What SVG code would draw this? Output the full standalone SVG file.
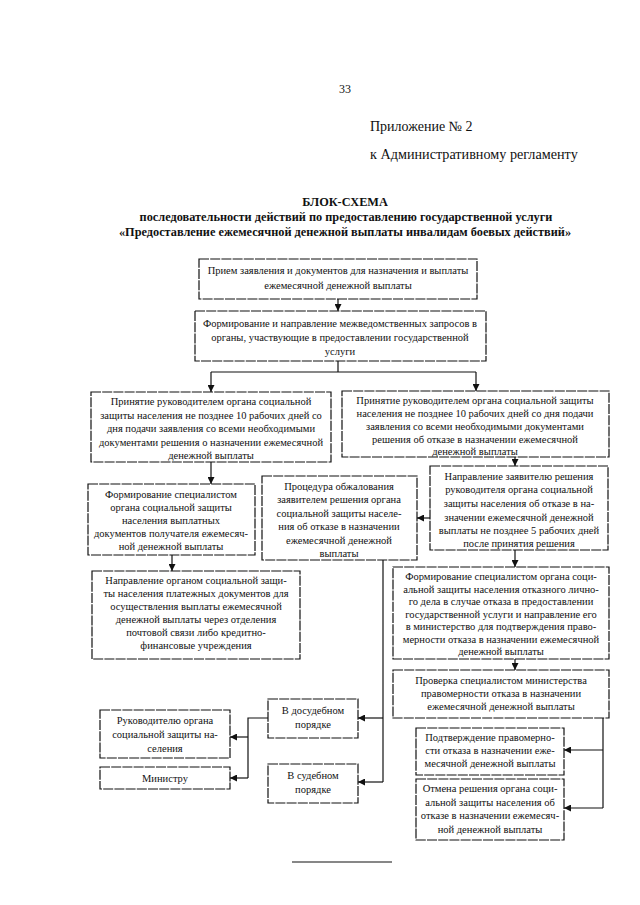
<svg xmlns="http://www.w3.org/2000/svg" width="640" height="905" viewBox="0 0 640 905">
<defs>
<marker id="arr" markerWidth="7" markerHeight="7" refX="7" refY="3.5" orient="auto" markerUnits="userSpaceOnUse">
<path d="M0,0 L7,3.5 L0,7 z" fill="#111"/>
</marker>
<style>
.box{fill:#fff;stroke:#111;stroke-width:1.2;stroke-dasharray:10 1.2}
.t{font-family:"Liberation Serif","Times New Roman",serif;font-size:10.5px;text-anchor:middle;fill:#111}
.h{font-family:"Liberation Serif","Times New Roman",serif;fill:#111}
.hb{font-family:"Liberation Serif","Times New Roman",serif;font-weight:bold;font-size:12.3px;text-anchor:middle;fill:#111}
.c{fill:none;stroke:#111;stroke-width:1.2}
</style>
</defs>
<rect width="640" height="905" fill="#fff"/>
<g id="header">
<text class="h" x="345" y="93" font-size="12" text-anchor="middle">33</text>
<text class="h" x="370" y="131" font-size="14">Приложение № 2</text>
<text class="h" x="370" y="159" font-size="14.2">к Административному регламенту</text>
<text class="hb" x="345" y="206" font-size="11.5">БЛОК-СХЕМА</text>
<text class="hb" x="346" y="221">последовательности действий по предоставлению государственной услуги</text>
<text class="hb" x="345" y="236">«Предоставление ежемесячной денежной выплаты инвалидам боевых действий»</text>
</g>
<g id="connectors">
<path class="c" d="M338,299 V311" marker-end="url(#arr)"/>
<path class="c" d="M338,361 V372 M211,372 H476"/>
<path class="c" d="M211,372 V392" marker-end="url(#arr)"/>
<path class="c" d="M476,372 V391" marker-end="url(#arr)"/>
<path class="c" d="M211,462 V484" marker-end="url(#arr)"/>
<path class="c" d="M172,555 V571" marker-end="url(#arr)"/>
<path class="c" d="M515,457 V466" marker-end="url(#arr)"/>
<path class="c" d="M430,518 H417" marker-end="url(#arr)"/>
<path class="c" d="M383,560 V782"/>
<path class="c" d="M383,718 H358" marker-end="url(#arr)"/>
<path class="c" d="M383,782 H358" marker-end="url(#arr)"/>
<path class="c" d="M515,550 V567" marker-end="url(#arr)"/>
<path class="c" d="M515,659 V670" marker-end="url(#arr)"/>
<path class="c" d="M603,718 V808"/>
<path class="c" d="M603,750 H564" marker-end="url(#arr)"/>
<path class="c" d="M603,808 H564" marker-end="url(#arr)"/>
<path class="c" d="M268,718 H248 V778"/>
<path class="c" d="M248,737 H230" marker-end="url(#arr)"/>
<path class="c" d="M248,778 H230" marker-end="url(#arr)"/>
</g>
<g id="n1"><rect class="box" x="199" y="259" width="278" height="40"/>
<text class="t" x="338" y="274">Прием заявления и документов для назначения и выплаты</text>
<text class="t" x="338" y="289">ежемесячной денежной выплаты</text></g>
<g id="n2"><rect class="box" x="195" y="311" width="291" height="50"/>
<text class="t" x="340" y="327">Формирование и направление межведомственных запросов в</text>
<text class="t" x="340" y="341">органы, участвующие в предоставлении государственной</text>
<text class="t" x="340" y="355">услуги</text></g>
<g id="n3"><rect class="box" x="91" y="392" width="240" height="70"/>
<text class="t" x="211" y="405">Принятие руководителем органа социальной</text>
<text class="t" x="211" y="419">защиты населения не позднее 10 рабочих дней со</text>
<text class="t" x="211" y="432">дня подачи заявления со всеми необходимыми</text>
<text class="t" x="211" y="446">документами решения о назначении ежемесячной</text>
<text class="t" x="211" y="459">денежной выплаты</text></g>
<g id="n4"><rect class="box" x="342" y="391" width="267" height="66"/>
<text class="t" x="475" y="404">Принятие руководителем органа социальной защиты</text>
<text class="t" x="475" y="417">населения не позднее 10 рабочих дней со дня подачи</text>
<text class="t" x="475" y="430">заявления со всеми необходимыми документами</text>
<text class="t" x="475" y="443">решения об отказе в назначении ежемесячной</text>
<text class="t" x="475" y="455">денежной выплаты</text></g>
<g id="n5"><rect class="box" x="88" y="484" width="167" height="71"/>
<text class="t" x="171" y="498">Формирование специалистом</text>
<text class="t" x="171" y="511">органа социальной защиты</text>
<text class="t" x="171" y="524">населения выплатных</text>
<text class="t" x="171" y="537">документов получателя ежемесяч-</text>
<text class="t" x="171" y="550">ной денежной выплаты</text></g>
<g id="n6"><rect class="box" x="92" y="571" width="208" height="88"/>
<text class="t" x="196" y="584">Направление органом социальной защи-</text>
<text class="t" x="196" y="597">ты населения платежных документов для</text>
<text class="t" x="196" y="610">осуществления выплаты ежемесячной</text>
<text class="t" x="196" y="623">денежной выплаты через отделения</text>
<text class="t" x="196" y="636">почтовой связи либо кредитно-</text>
<text class="t" x="196" y="649">финансовые учреждения</text></g>
<g id="n7"><rect class="box" x="262" y="476" width="155" height="84"/>
<text class="t" x="339" y="490">Процедура обжалования</text>
<text class="t" x="339" y="503">заявителем решения органа</text>
<text class="t" x="339" y="517">социальной защиты населе-</text>
<text class="t" x="339" y="530">ния об отказе в назначении</text>
<text class="t" x="339" y="544">ежемесячной денежной</text>
<text class="t" x="339" y="557">выплаты</text></g>
<g id="n8"><rect class="box" x="430" y="466" width="178" height="84"/>
<text class="t" x="519" y="480">Направление заявителю решения</text>
<text class="t" x="519" y="493">руководителя органа социальной</text>
<text class="t" x="519" y="507">защиты населения об отказе в на-</text>
<text class="t" x="519" y="521">значении ежемесячной денежной</text>
<text class="t" x="519" y="534">выплаты не позднее 5 рабочих дней</text>
<text class="t" x="519" y="547">после принятия решения</text></g>
<g id="n9"><rect class="box" x="393" y="567" width="216" height="92"/>
<text class="t" x="501" y="580">Формирование специалистом органа соци-</text>
<text class="t" x="501" y="592.5">альной защиты населения отказного лично-</text>
<text class="t" x="501" y="605">го дела в случае отказа в предоставлении</text>
<text class="t" x="501" y="617.5">государственной услуги  и направление его</text>
<text class="t" x="501" y="630">в министерство для подтверждения право-</text>
<text class="t" x="501" y="642.5">мерности отказа в назначении ежемесячной</text>
<text class="t" x="501" y="655">денежной выплаты</text></g>
<g id="n10"><rect class="box" x="393" y="670" width="216" height="48"/>
<text class="t" x="501" y="684">Проверка специалистом министерства</text>
<text class="t" x="501" y="697">правомерности отказа в назначении</text>
<text class="t" x="501" y="710">ежемесячной денежной выплаты</text></g>
<g id="n11"><rect class="box" x="416" y="728" width="148" height="47"/>
<text class="t" x="490" y="741">Подтверждение правомерно-</text>
<text class="t" x="490" y="754">сти отказа в назначении еже-</text>
<text class="t" x="490" y="767">месячной денежной выплаты</text></g>
<g id="n12"><rect class="box" x="416" y="779" width="148" height="61"/>
<text class="t" x="490" y="792">Отмена решения органа соци-</text>
<text class="t" x="490" y="806">альной защиты населения об</text>
<text class="t" x="490" y="819">отказе в назначении ежемесяч-</text>
<text class="t" x="490" y="833">ной денежной выплаты</text></g>
<g id="n13"><rect class="box" x="268" y="699" width="90" height="39"/>
<text class="t" x="313" y="714">В досудебном</text>
<text class="t" x="313" y="728">порядке</text></g>
<g id="n14"><rect class="box" x="268" y="764" width="90" height="39"/>
<text class="t" x="313" y="779">В судебном</text>
<text class="t" x="313" y="793">порядке</text></g>
<g id="n15"><rect class="box" x="100" y="710" width="130" height="48"/>
<text class="t" x="165" y="724">Руководителю органа</text>
<text class="t" x="165" y="738">социальной защиты на-</text>
<text class="t" x="165" y="752">селения</text></g>
<g id="n16"><rect class="box" x="100" y="767" width="130" height="22"/>
<text class="t" x="165" y="782">Министру</text></g>
<g id="footer"><path d="M292,862 H392" stroke="#111" stroke-width="1.2"/></g>
</svg>
